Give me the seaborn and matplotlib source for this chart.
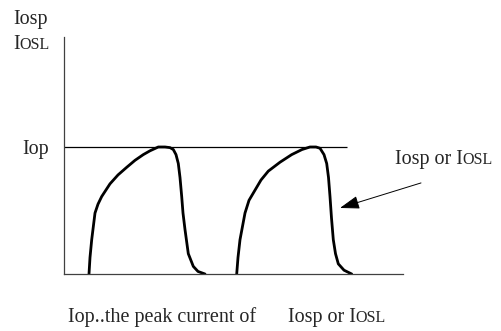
import matplotlib
matplotlib.use("Agg")
import matplotlib.pyplot as plt
import seaborn as sns
import pandas as pd

# pulse shapes: time (arbitrary units), current relative to Iop
pulse1_t = [2.5, 2.6, 2.77, 3.1, 3.4, 3.77, 4.6, 5.4, 6.27, 7.1, 7.93, 8.6, 9.43, 10.1,
            10.6, 10.93, 11.2, 11.43, 11.6, 11.77, 11.9, 12.1, 12.43, 12.93, 13.4, 14.1]
pulse1_i = [0.0, 0.13, 0.27, 0.48, 0.55, 0.61, 0.71, 0.78, 0.84, 0.895, 0.94, 0.97, 1.0, 1.0,
            0.995, 0.98, 0.94, 0.87, 0.76, 0.61, 0.48, 0.35, 0.16, 0.06, 0.02, 0.0]
pulse2_t = [17.27, 17.4, 17.6, 18.1, 18.5, 19.1, 19.7, 20.43, 21.6, 22.77, 23.8, 24.6,
            25.2, 25.6, 26.0, 26.27, 26.45, 26.6, 26.75, 26.93, 27.15, 27.43, 28.0, 28.77]
pulse2_i = [0.0, 0.13, 0.27, 0.48, 0.58, 0.66, 0.74, 0.81, 0.88, 0.94, 0.98, 1.0,
            1.0, 0.99, 0.94, 0.87, 0.76, 0.61, 0.44, 0.27, 0.16, 0.08, 0.03, 0.0]

iop_level = 1.0
iop_line_end = 28.3
arrow_tip = (27.6, 0.52)
arrow_tail = (35.7, 0.717)

W, H = 502, 331
FS = 14.5
FS_CAPS = 11.5

sns.set_style("white")
plt.rcParams['font.family'] = ['Liberation Serif', 'DejaVu Serif']

fig = plt.figure(figsize=(W / 100, H / 100), dpi=100)
ax = fig.add_axes([64 / W, (H - 274) / H, (403 - 64) / W, (274 - 37) / H])

df1 = pd.DataFrame({'t': pulse1_t, 'i': pulse1_i})
df2 = pd.DataFrame({'t': pulse2_t, 'i': pulse2_i})
for df in (df1, df2):
    sns.lineplot(data=df, x='t', y='i', ax=ax, sort=False, estimator=None,
                 color='black', lw=2.0, solid_joinstyle='round', solid_capstyle='round')

ax.hlines(iop_level, 0, iop_line_end, color='black', lw=0.9)

ax.set_xlim(0, 33.9)
ax.set_ylim(0, 1.866)
ax.set_xlabel('')
ax.set_ylabel('')
ax.set_xticks([])
ax.set_yticks([iop_level], ['Iop'], fontsize=FS)
ax.tick_params(axis='y', length=0, pad=11)
for s in ('top', 'right'):
    ax.spines[s].set_visible(False)
for s in ('left', 'bottom'):
    ax.spines[s].set_color('#404040')
    ax.spines[s].set_linewidth(0.9)

ax.annotate('', xy=arrow_tip, xytext=arrow_tail, annotation_clip=False,
            arrowprops=dict(arrowstyle='-|>,head_length=0.8,head_width=0.27',
                            mutation_scale=15, color='black', lw=0.7,
                            shrinkA=0, shrinkB=0))

renderer = fig.canvas.get_renderer()


def px_text(x, y, s, size=FS):
    # place text by pixel position (x from left, baseline y from top)
    return fig.text(x / W, 1 - y / H, s, fontsize=size, va='baseline', ha='left')


def smallcaps(x, y, lead, caps):
    t = px_text(x, y, lead)
    bb = t.get_window_extent(renderer)
    px_text(bb.x1, y, caps, size=FS_CAPS)


px_text(13, 24, 'Iosp')
smallcaps(13, 49, 'I', 'OSL')
smallcaps(395, 164, 'Iosp or I', 'OSL')
px_text(68, 322, 'Iop..the peak current of')
smallcaps(288, 322, 'Iosp or I', 'OSL')

fig.savefig('out.png', dpi=100, facecolor='white')
